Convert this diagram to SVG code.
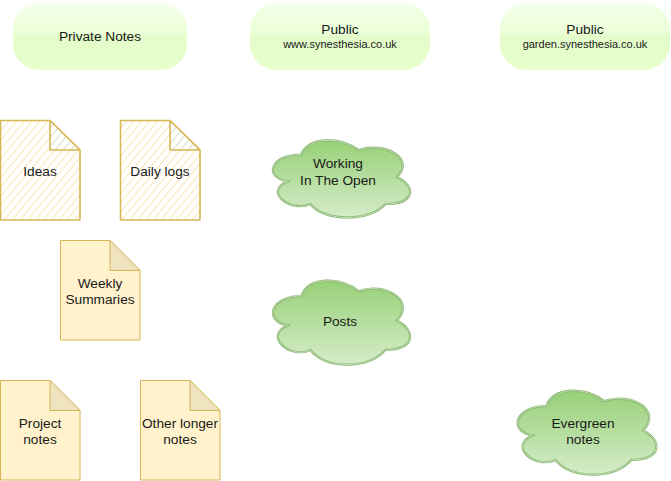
<svg xmlns="http://www.w3.org/2000/svg" width="671" height="481" viewBox="0 0 671 481">
<defs>
<linearGradient id="boxg" x1="0" y1="0" x2="0" y2="1">
<stop offset="0" stop-color="#f4ffe9"/>
<stop offset="0.45" stop-color="#ebffd8"/>
<stop offset="0.5" stop-color="#e3fcc9"/>
<stop offset="1" stop-color="#e6ffcc"/>
</linearGradient>
<linearGradient id="cloudg" x1="0" y1="0" x2="0" y2="1">
<stop offset="0" stop-color="#97d077"/>
<stop offset="1" stop-color="#d5ecc9"/>
</linearGradient>
<pattern id="hatch" width="6" height="6" patternUnits="userSpaceOnUse" patternTransform="rotate(40)">
<rect width="6" height="6" fill="#ffffff"/>
<line x1="0" y1="0" x2="0" y2="6" stroke="#f7eab8" stroke-width="2.2"/>
</pattern>
<pattern id="hatchfold" width="6" height="6" patternUnits="userSpaceOnUse" patternTransform="rotate(40)">
<rect width="6" height="6" fill="#ffffff"/>
<line x1="0" y1="0" x2="0" y2="6" stroke="#e2ddd0" stroke-width="2.4"/>
</pattern>
<path id="cloud1" d="M301.25,154.5 C270.65,154.5 263,177 287.48,181.5 C263,191.4 290.54,213 310.43,204 C324.2,222 370.1,222 385.4,204 C416,204 416,186 396.88,177 C416,159 385.4,141 358.63,150 C339.5,136.5 308.9,136.5 301.25,154.5 Z"/>
<path id="cloud2" d="M301.25,296 C270.65,296 263,320.5 287.48,325.4 C263,336.2 290.54,359.7 310.43,349.9 C324.2,369.5 370.1,369.5 385.4,349.9 C416,349.9 416,330.3 396.88,320.5 C416,300.9 385.4,281.3 358.63,291.1 C339.5,276.4 308.9,276.4 301.25,296 Z"/>
<path id="cloud3" d="M546.25,406 C515.25,406 507.5,430.5 532.3,435.4 C507.5,446.2 535.4,469.7 555.55,459.9 C569.5,479.5 616,479.5 631.5,459.9 C662.5,459.9 662.5,440.3 643.13,430.5 C662.5,410.9 631.5,391.3 604.38,401.1 C585,386.4 554,386.4 546.25,406 Z"/>
</defs>
<style>
text{font-family:"Liberation Sans",Arial,sans-serif;font-size:13.7px;fill:#1a1a1a;text-anchor:middle}
.sub{font-size:11px}
.box{fill:url(#boxg);stroke:none}
.note{fill:#fff2cc;stroke:#d6b656;stroke-width:1}
.fold{fill:#f0e3bf;stroke:#d6b656;stroke-width:1}
.snote{fill:url(#hatch);stroke:#d6b656;stroke-width:1.6;stroke-linejoin:round}
.sfold{fill:url(#hatchfold);stroke:#d6b656;stroke-width:1.6;stroke-linejoin:round}
.cloud{fill:url(#cloudg);stroke:#82b366;stroke-width:2.2}
.cloudhl{fill:none;stroke:#ffffff;stroke-opacity:0.65;stroke-width:0.8}
</style>
<rect width="671" height="481" fill="#ffffff"/>
<g id="connectors"></g>
<g id="private-notes">
<rect class="box" x="13" y="3" width="174" height="67" rx="26" ry="26"/>
<text x="100" y="41">Private Notes</text>
</g>
<g id="public-www">
<rect class="box" x="250" y="3" width="180" height="67" rx="26" ry="26"/>
<text x="340" y="34">Public</text>
<text class="sub" x="340" y="48">www.synesthesia.co.uk</text>
</g>
<g id="public-garden">
<rect class="box" x="500" y="3" width="170" height="67" rx="26" ry="26"/>
<text x="585" y="34">Public</text>
<text class="sub" x="585" y="48">garden.synesthesia.co.uk</text>
</g>
<g id="ideas">
<path class="snote" d="M0.5,120.5 H50 L80,150 V220 H0.5 Z"/>
<path class="sfold" d="M50,120.5 V150 H80 Z"/>
<text x="40" y="176">Ideas</text>
</g>
<g id="daily-logs">
<path class="snote" d="M120.5,120.5 H170 L200,150 V220 H120.5 Z"/>
<path class="sfold" d="M170,120.5 V150 H200 Z"/>
<text x="160" y="176">Daily logs</text>
</g>
<g id="weekly-summaries">
<path class="note" d="M60.5,240.5 H110 L140,270.5 V340 H60.5 Z"/>
<path class="fold" d="M110,240.5 V270.5 H140 Z"/>
<text x="100" y="288">Weekly</text>
<text x="100" y="304">Summaries</text>
</g>
<g id="project-notes">
<path class="note" d="M0.5,380.5 H50 L80,410.5 V480 H0.5 Z"/>
<path class="fold" d="M50,380.5 V410.5 H80 Z"/>
<text x="40" y="428">Project</text>
<text x="40" y="444">notes</text>
</g>
<g id="other-longer-notes">
<path class="note" d="M140.5,380.5 H190 L220,410.5 V480 H140.5 Z"/>
<path class="fold" d="M190,380.5 V410.5 H220 Z"/>
<text x="180" y="428">Other longer</text>
<text x="180" y="444">notes</text>
</g>
<g id="working-in-the-open">
<use href="#cloud1" class="cloud"/>
<use href="#cloud1" class="cloudhl"/>
<text x="338" y="168">Working</text>
<text x="338" y="185">In The Open</text>
</g>
<g id="posts">
<use href="#cloud2" class="cloud"/>
<use href="#cloud2" class="cloudhl"/>
<text x="340" y="326">Posts</text>
</g>
<g id="evergreen-notes">
<use href="#cloud3" class="cloud"/>
<use href="#cloud3" class="cloudhl"/>
<text x="583" y="428">Evergreen</text>
<text x="583" y="444">notes</text>
</g>
</svg>
